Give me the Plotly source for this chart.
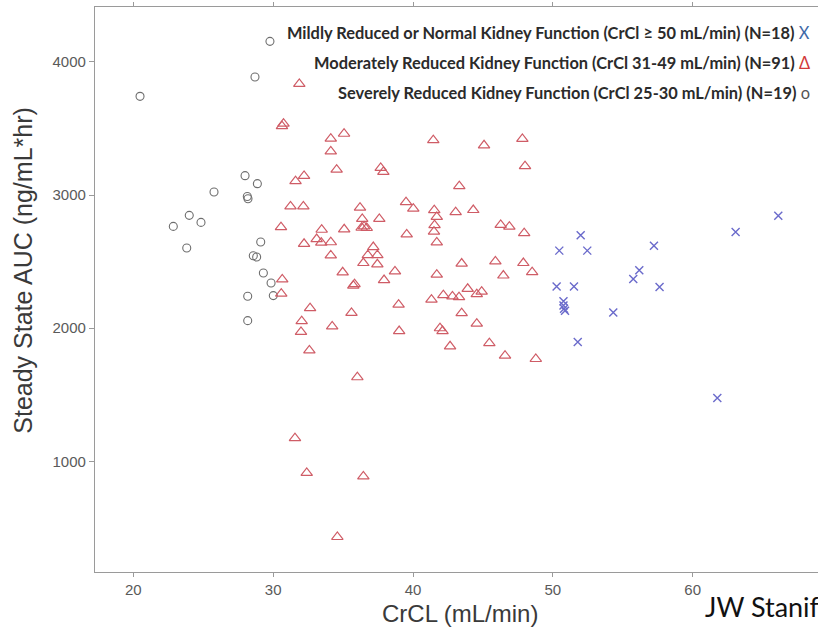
import plotly.graph_objects as go

# Severely reduced kidney function (CrCl 25-30 mL/min)
severe_crcl = [29.77, 28.70, 20.48, 27.99, 28.87, 25.77, 28.15, 28.20, 24.00, 24.84,
               22.86, 23.82, 29.11, 28.58, 28.82, 29.30, 29.85, 30.01, 28.18, 28.18]
severe_auc = [4155, 3887, 3742, 3146, 3086, 3023, 2990, 2973, 2848, 2795,
              2765, 2603, 2648, 2545, 2535, 2415, 2340, 2245, 2240, 2057]

# Moderately reduced kidney function (CrCl 31-49 mL/min)
moderate_crcl = [31.87, 30.63, 30.74, 34.12, 35.07, 34.12, 34.54, 37.69, 37.88, 41.45,
                 45.08, 47.82, 48.01, 43.31, 31.60, 32.21, 31.24, 32.16, 36.21, 39.50,
                 40.02, 41.52, 41.70, 41.54, 41.50, 41.70, 43.05, 44.31, 46.27, 46.89,
                 47.95, 30.56, 32.21, 36.37, 37.59, 36.33, 36.69, 36.50, 33.47, 35.08,
                 39.55, 33.11, 33.44, 34.12, 37.16, 36.77, 37.45, 34.12, 36.45, 37.45,
                 34.97, 38.71, 37.93, 35.73, 35.82, 30.65, 30.58, 43.48, 45.89, 47.89,
                 41.70, 46.46, 48.52, 43.91, 44.91, 44.56, 41.32, 42.17, 42.82, 43.29,
                 32.64, 35.60, 38.97, 43.48, 44.56, 41.93, 42.11, 32.04, 31.99, 34.22,
                 39.01, 42.65, 45.46, 46.58, 48.78, 32.59, 36.02, 31.56, 32.40, 36.45,
                 34.59]
moderate_auc = [3835, 3518, 3537, 3424, 3461, 3328, 3191, 3204, 3174, 3413,
                3374, 3422, 3217, 3067, 3105, 3144, 2915, 2915, 2906, 2947,
                2898, 2887, 2836, 2774, 2725, 2645, 2872, 2888, 2776, 2763,
                2714, 2759, 2634, 2821, 2821, 2755, 2753, 2765, 2740, 2743,
                2705, 2670, 2643, 2646, 2610, 2549, 2549, 2547, 2490, 2480,
                2420, 2427, 2362, 2320, 2331, 2367, 2260, 2486, 2502, 2490,
                2402, 2396, 2421, 2296, 2275, 2256, 2215, 2248, 2239, 2233,
                2151, 2115, 2177, 2113, 2034, 2000, 1979, 2053, 1972, 2014,
                1979, 1864, 1888, 1794, 1769, 1833, 1632, 1174, 913, 887,
                432]

# Mildly reduced or normal kidney function (CrCl >= 50 mL/min)
mild_crcl = [51.99, 50.46, 52.46, 50.27, 51.51, 50.76, 50.76, 50.80, 50.87, 54.32,
             51.78, 57.23, 56.18, 55.75, 57.63, 63.07, 66.12, 61.76]
mild_auc = [2698, 2583, 2583, 2314, 2314, 2202, 2170, 2147, 2132, 2119,
            1897, 2620, 2435, 2370, 2310, 2723, 2845, 1476]

x_ticks = [20, 30, 40, 50, 60]
y_ticks = [1000, 2000, 3000, 4000]

legend_lines = [
    ("Mildly Reduced or Normal Kidney Function (CrCl \u2265 50 mL/min) (N=18)", "X", "#3f6aa8"),
    ("Moderately Reduced Kidney Function (CrCl 31-49 mL/min) (N=91)", "\u0394", "#d23a3a"),
    ("Severely Reduced Kidney Function (CrCl 25-30 mL/min) (N=19)", "o", "#555555"),
]

fig = go.Figure()
fig.add_trace(go.Scatter(
    x=severe_crcl, y=severe_auc, mode="markers",
    marker=dict(symbol="circle-open", size=8, color="#6e6e6e", line=dict(width=1.1)),
))
fig.add_trace(go.Scatter(
    x=moderate_crcl, y=moderate_auc, mode="markers",
    marker=dict(symbol="triangle-up-open", size=10, color="#cf5c66", line=dict(width=1.2)),
))
fig.add_trace(go.Scatter(
    x=mild_crcl, y=mild_auc, mode="markers",
    marker=dict(symbol="x-thin-open", size=8, color="#6a6acb", line=dict(width=1.4)),
))

axis_font = dict(family="Liberation Sans, Arial, sans-serif", size=15, color="#5a5a5a")

fig.update_layout(
    width=818, height=628,
    margin=dict(l=95, r=0, t=7, b=56),
    paper_bgcolor="white", plot_bgcolor="white",
    showlegend=False,
    xaxis=dict(
        range=[17.26, 68.96], tickvals=x_ticks, ticks="outside", ticklen=4,
        tickcolor="#9a9a9a", showline=True, linecolor="#9a9a9a", linewidth=1.2,
        mirror="ticks", showgrid=False, zeroline=False, tickfont=axis_font,
    ),
    yaxis=dict(
        range=[169, 4413], tickvals=y_ticks, ticks="outside", ticklen=5,
        tickcolor="#9a9a9a", showline=True, linecolor="#9a9a9a", linewidth=1.2,
        showgrid=False, zeroline=False, tickfont=axis_font,
    ),
)

title_font = dict(family="Liberation Sans, Arial, sans-serif", size=24, color="#3a3a3a")
fig.add_annotation(text="CrCL (mL/min)", xref="paper", yref="paper",
                   x=0.505, y=-0.074, xanchor="center", yanchor="middle",
                   showarrow=False, font=title_font)
fig.add_annotation(text="Steady State AUC (ng/mL*hr)", xref="paper", yref="paper",
                   x=-0.0996, y=0.535, xanchor="center", yanchor="middle",
                   textangle=-90, showarrow=False,
                   font=dict(family="Liberation Sans, Arial, sans-serif", size=25, color="#3a3a3a"))

# Group key drawn as right-aligned text lines with a coloured symbol
key_y = [0.9545, 0.9014, 0.8483]
for (label, sym, col), ky in zip(legend_lines, key_y):
    fig.add_annotation(
        text=f"<b>{label}</b> <span style='color:{col}'>{sym}</span>",
        xref="paper", yref="paper", x=0.992, y=ky,
        xanchor="right", yanchor="middle", showarrow=False,
        font=dict(family="Lato, sans-serif", size=16.4, color="#2b2b2b"),
    )

fig.add_annotation(text="JW Stanifer", xref="paper", yref="paper",
                   x=0.841, y=-0.0614, xanchor="left", yanchor="middle",
                   showarrow=False,
                   font=dict(family="Lato, sans-serif", size=27, color="#111111"))

fig.write_html("out.html")
